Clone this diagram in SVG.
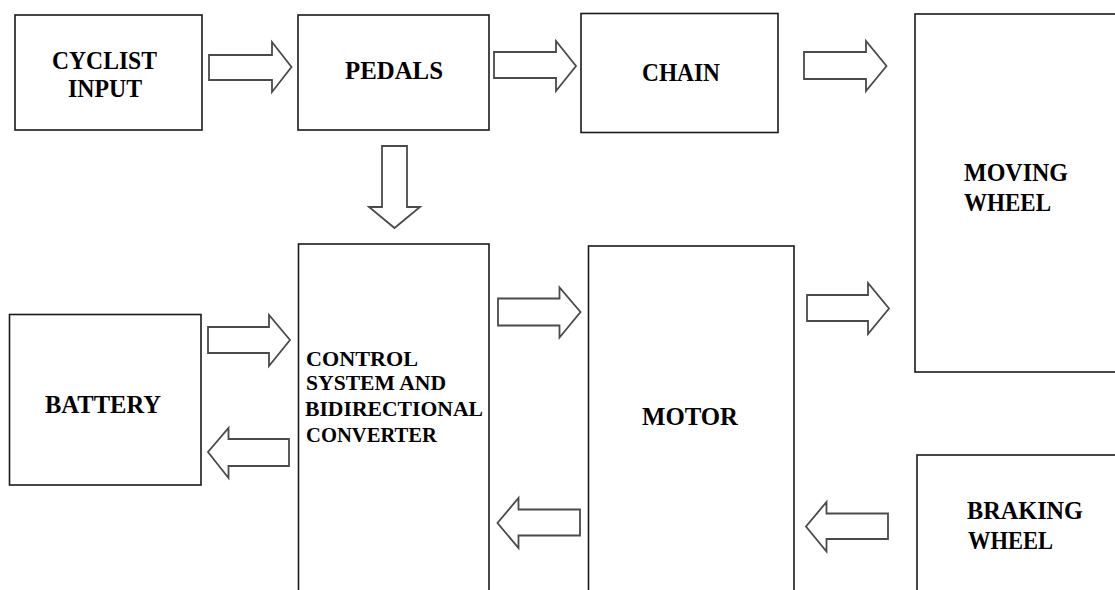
<svg xmlns="http://www.w3.org/2000/svg" width="1115" height="590" viewBox="0 0 1115 590">
<style>
.box{fill:#fff;stroke:#1a1a1a;stroke-width:1.6}
.arr{fill:#fff;stroke:#4a4a4a;stroke-width:1.8;stroke-linejoin:miter}
.lbl{font-family:"Liberation Serif","Times New Roman",serif;font-weight:bold;font-size:25.5px;fill:#000}
.sm{font-size:21.5px}
</style>
<rect width="1115" height="590" fill="#fff"/>
<g id="cyclist-input">
<rect class="box" x="15" y="15" width="187" height="115"/>
<text class="lbl" x="52" y="69" textLength="105" lengthAdjust="spacingAndGlyphs">CYCLIST</text>
<text class="lbl" x="68" y="97" textLength="74" lengthAdjust="spacingAndGlyphs">INPUT</text>
</g>
<g id="pedals">
<rect class="box" x="298" y="15" width="191" height="115"/>
<text class="lbl" x="345" y="79" textLength="98" lengthAdjust="spacingAndGlyphs">PEDALS</text>
</g>
<g id="chain">
<rect class="box" x="581" y="13.5" width="197" height="119"/>
<text class="lbl" x="642" y="81" textLength="78" lengthAdjust="spacingAndGlyphs">CHAIN</text>
</g>
<g id="moving-wheel">
<rect class="box" x="915" y="14" width="220" height="358"/>
<text class="lbl" x="964" y="181" textLength="104" lengthAdjust="spacingAndGlyphs">MOVING</text>
<text class="lbl" x="964" y="211" textLength="87" lengthAdjust="spacingAndGlyphs">WHEEL</text>
</g>
<g id="battery">
<rect class="box" x="9.5" y="314.5" width="191.5" height="170.5"/>
<text class="lbl" x="45" y="413" textLength="116" lengthAdjust="spacingAndGlyphs">BATTERY</text>
</g>
<g id="control-system">
<rect class="box" x="298.5" y="244" width="190.5" height="360"/>
<text class="lbl sm" x="306" y="366" textLength="112" lengthAdjust="spacingAndGlyphs">CONTROL</text>
<text class="lbl sm" x="306" y="390" textLength="140" lengthAdjust="spacingAndGlyphs">SYSTEM AND</text>
<text class="lbl sm" x="305" y="416" textLength="178" lengthAdjust="spacingAndGlyphs">BIDIRECTIONAL</text>
<text class="lbl sm" x="306" y="442" textLength="131" lengthAdjust="spacingAndGlyphs">CONVERTER</text>
</g>
<g id="motor">
<rect class="box" x="588.5" y="246" width="205.5" height="360"/>
<text class="lbl" x="642" y="425" textLength="96" lengthAdjust="spacingAndGlyphs">MOTOR</text>
</g>
<g id="braking-wheel">
<rect class="box" x="917" y="455" width="220" height="160"/>
<text class="lbl" x="967" y="519" textLength="116" lengthAdjust="spacingAndGlyphs">BRAKING</text>
<text class="lbl" x="968" y="549" textLength="85" lengthAdjust="spacingAndGlyphs">WHEEL</text>
</g>
<g id="connectors">
<polygon class="arr" points="209,55 272,55 272,42 291.5,67 272,92 272,80 209,80"/>
<polygon class="arr" points="494,52 556,52 556,41 576,66 556,91 556,78 494,78"/>
<polygon class="arr" points="804,52 866,52 866,41 886.5,66 866,91 866,79 804,79"/>
<polygon class="arr" points="382,146 407,146 407,207 420,207 394.5,228 369,207 382,207"/>
<polygon class="arr" points="208,327 269,327 269,315 290,340 269,366 269,353 208,353"/>
<polygon class="arr" points="289,439 228.5,439 228.5,428 208,452 228.5,478 228.5,466 289,466"/>
<polygon class="arr" points="498,298.5 559.5,298.5 559.5,287.5 580.5,312 559.5,337.5 559.5,325.5 498,325.5"/>
<polygon class="arr" points="807,295 868,295 868,283 889,308.5 868,334 868,321 807,321"/>
<polygon class="arr" points="580,509.5 518.5,509.5 518.5,498 497.5,523 518.5,548 518.5,535.5 580,535.5"/>
<polygon class="arr" points="888,513.5 826.5,513.5 826.5,502 806,526.5 826.5,551.5 826.5,539 888,539"/>
</g>
</svg>
